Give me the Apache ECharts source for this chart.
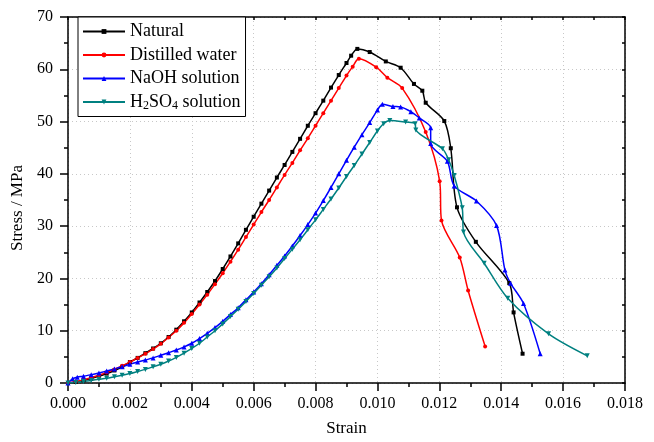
<!DOCTYPE html>
<html>
<head>
<meta charset="utf-8">
<script src="https://cdn.jsdelivr.net/npm/echarts@6/dist/echarts.min.js"></script>
<style>
  html, body { margin: 0; padding: 0; background: #fff; }
  #chart { width: 654px; height: 442px; }
</style>
</head>
<body>
<div id="chart"></div>
<script>
// strain / stress pairs
var natural = [
  [0, 0], [0.00025, 0.2], [0.0005, 0.5], [0.00075, 0.9], [0.001, 1.3], [0.00125, 1.8],
  [0.0015, 2.4], [0.00175, 3.1], [0.002, 4.0], [0.00225, 4.8], [0.0025, 5.7], [0.00275, 6.6],
  [0.003, 7.6], [0.00325, 8.8], [0.0035, 10.2], [0.00375, 11.8], [0.004, 13.5], [0.00425, 15.4],
  [0.0045, 17.4], [0.00475, 19.5], [0.005, 21.8], [0.00525, 24.2], [0.0055, 26.7], [0.00575, 29.3],
  [0.006, 31.8], [0.00625, 34.3], [0.0065, 36.8], [0.00675, 39.3], [0.007, 41.7], [0.00725, 44.2],
  [0.0075, 46.7], [0.00775, 49.2], [0.008, 51.6], [0.00825, 54.0], [0.0085, 56.5], [0.00875, 58.9],
  [0.009, 61.2], [0.00915, 62.6], [0.00935, 63.9],
  [0.00975, 63.3], [0.01027, 61.5], [0.01075, 60.3], [0.01118, 57.2], [0.01145, 55.9],
  [0.01156, 53.6], [0.01216, 50.1], [0.01237, 44.9], [0.01257, 33.6], [0.01318, 27.0],
  [0.01426, 19.1], [0.0144, 13.5], [0.01469, 5.6]
];
var distilled = [
  [0, 0], [0.00025, 0.3], [0.0005, 0.6], [0.00075, 1.0], [0.001, 1.5], [0.00125, 2.0],
  [0.0015, 2.6], [0.00175, 3.3], [0.002, 4.0], [0.00225, 4.8], [0.0025, 5.6], [0.00275, 6.5],
  [0.003, 7.5], [0.00325, 8.7], [0.0035, 10.0], [0.00375, 11.5], [0.004, 13.2], [0.00425, 15.0],
  [0.0045, 16.9], [0.00475, 18.9], [0.005, 21.0], [0.00525, 23.2], [0.0055, 25.5], [0.00575, 27.9],
  [0.006, 30.3], [0.00625, 32.7], [0.0065, 35.0], [0.00675, 37.4], [0.007, 39.8], [0.00725, 42.1],
  [0.0075, 44.5], [0.00775, 46.8], [0.008, 49.2], [0.00825, 51.6], [0.0085, 54.0], [0.00875, 56.4],
  [0.009, 58.8], [0.0092, 60.5], [0.0094, 62.0],
  [0.00996, 60.4], [0.01032, 58.4], [0.0108, 56.4], [0.01156, 48.0], [0.01201, 38.6],
  [0.01207, 31.1], [0.01266, 24.0], [0.01293, 17.7], [0.01348, 7.0]
];
var naoh = [
  [0, 0], [0.00015, 0.8], [0.0003, 1.1], [0.0005, 1.3], [0.00075, 1.6], [0.001, 1.9],
  [0.00125, 2.3], [0.0015, 2.7], [0.00175, 3.1], [0.002, 3.6], [0.00225, 4.0], [0.0025, 4.4],
  [0.00275, 4.8], [0.003, 5.3], [0.00325, 5.8], [0.0035, 6.3], [0.00375, 6.9], [0.004, 7.6],
  [0.00425, 8.5], [0.0045, 9.5], [0.00475, 10.6], [0.005, 11.8], [0.00525, 13.1], [0.0055, 14.4],
  [0.00575, 15.9], [0.006, 17.4], [0.00625, 19.0], [0.0065, 20.7], [0.00675, 22.5], [0.007, 24.3],
  [0.00725, 26.2], [0.0075, 28.2], [0.00775, 30.3], [0.008, 32.5], [0.00825, 34.9], [0.0085, 37.4],
  [0.00875, 40.0], [0.009, 42.6], [0.00925, 45.1], [0.0095, 47.5], [0.00975, 49.8], [0.01, 52.2],
  [0.01016, 53.3], [0.0105, 52.9], [0.01075, 52.8], [0.01108, 51.9], [0.01135, 50.7],
  [0.01172, 48.8], [0.01172, 45.8], [0.01226, 42.4], [0.01248, 37.7], [0.0132, 34.8],
  [0.01385, 30.1], [0.01412, 21.6], [0.0143, 19.1], [0.01472, 15.2], [0.01526, 5.6]
];
var h2so4 = [
  [0, 0], [0.00025, 0.1], [0.0005, 0.3], [0.00075, 0.5], [0.001, 0.7], [0.00125, 0.9],
  [0.0015, 1.2], [0.00175, 1.5], [0.002, 1.8], [0.00225, 2.2], [0.0025, 2.6], [0.00275, 3.1],
  [0.003, 3.6], [0.00325, 4.2], [0.0035, 4.9], [0.00375, 5.7], [0.004, 6.6], [0.00425, 7.6],
  [0.0045, 8.8], [0.00475, 10.0], [0.005, 11.3], [0.00525, 12.7], [0.0055, 14.1], [0.00575, 15.6],
  [0.006, 17.1], [0.00625, 18.7], [0.0065, 20.3], [0.00675, 22.0], [0.007, 23.8], [0.00725, 25.6],
  [0.0075, 27.4], [0.00775, 29.3], [0.008, 31.2], [0.00825, 33.2], [0.0085, 35.2], [0.00875, 37.3],
  [0.009, 39.5], [0.00925, 41.6], [0.0095, 43.8], [0.00975, 46.0], [0.01, 48.2], [0.0102, 49.6],
  [0.0104, 50.2], [0.01091, 49.9], [0.01122, 49.6], [0.01124, 48.4], [0.0121, 44.8],
  [0.0123, 42.7], [0.01248, 39.7], [0.01274, 33.5], [0.01278, 28.9], [0.01345, 22.9],
  [0.01421, 16.2], [0.01553, 9.4], [0.01678, 5.2]
];
var seriesNames = ['Natural', 'Distilled water', 'NaOH solution', 'H2SO4 solution'];
var seriesColors = ['#000000', '#ff0000', '#0000ff', '#008080'];

var serif = '"Liberation Serif", "Times New Roman", serif';
var chart = echarts.init(document.getElementById('chart'), null, { renderer: 'canvas' });

function mkSeries(name, data, color, symbol, size, rotate) {
  return {
    name: name,
    type: 'line',
    data: data,
    smooth: 0.3,
    symbol: symbol,
    symbolSize: size,
    symbolRotate: rotate || 0,
    showAllSymbol: true,
    lineStyle: { color: color, width: 1.5 },
    itemStyle: { color: color },
    emphasis: { disabled: true }
  };
}

var tickStyle = { color: '#000', width: 1.5 };

var option = {
  animation: false,
  backgroundColor: '#fff',
  grid: { left: 68, right: 29, top: 17, bottom: 54 },
  legend: {
    left: 78,
    top: 17,
    orient: 'vertical',
    data: seriesNames,
    backgroundColor: '#fff',
    borderColor: '#000',
    borderWidth: 1,
    borderRadius: 0,
    padding: [5, 5, 5, 4],
    itemWidth: 42,
    itemHeight: 6,
    itemGap: 4.5,
    textStyle: {
      fontFamily: serif,
      fontSize: 18,
      lineHeight: 19,
      color: '#000',
      rich: {
        sub: { fontFamily: serif, fontSize: 12, verticalAlign: 'bottom', padding: [9, 0, 0, 0] }
      }
    },
    formatter: function (name) {
      if (name === 'H2SO4 solution') return 'H{sub|2}SO{sub|4} solution';
      return name;
    }
  },
  xAxis: [{
    type: 'value',
    min: 0,
    max: 0.018,
    interval: 0.002,
    name: 'Strain',
    nameLocation: 'middle',
    nameGap: 37,
    nameTextStyle: { fontFamily: serif, fontSize: 17, color: '#000' },
    axisLine: { lineStyle: { color: '#000', width: 1.5 } },
    axisTick: { show: true, length: 8, lineStyle: tickStyle },
    minorTick: { show: true, splitNumber: 2, length: 4, lineStyle: tickStyle },
    axisLabel: { fontFamily: serif, fontSize: 16, color: '#000', margin: 13,
      formatter: function (v) { return v.toFixed(3); } },
    splitLine: { show: true, lineStyle: { color: '#c8c8c8', type: [1, 3], width: 1 } }
  }, {
    type: 'value',
    position: 'top',
    min: 0,
    max: 0.018,
    interval: 0.002,
    axisLine: { show: true, onZero: false, lineStyle: { color: '#000', width: 1.5 } },
    axisTick: { show: true, inside: true, length: 3, lineStyle: tickStyle },
    minorTick: { show: true, splitNumber: 2, length: 3, lineStyle: tickStyle },
    axisLabel: { show: false },
    splitLine: { show: false }
  }],
  yAxis: [{
    type: 'value',
    min: 0,
    max: 70,
    interval: 10,
    name: 'Stress / MPa',
    nameLocation: 'middle',
    nameGap: 37,
    nameTextStyle: { fontFamily: serif, fontSize: 17, color: '#000', padding: [0, 16, 0, 0] },
    axisLine: { show: true, lineStyle: { color: '#000', width: 1.5 } },
    axisTick: { show: true, length: 8, lineStyle: tickStyle },
    minorTick: { show: true, splitNumber: 2, length: 4, lineStyle: tickStyle },
    axisLabel: { fontFamily: serif, fontSize: 16, color: '#000', margin: 15 },
    splitLine: { show: true, lineStyle: { color: '#c8c8c8', type: [1, 3], width: 1 } }
  }, {
    type: 'value',
    position: 'right',
    min: 0,
    max: 70,
    interval: 10,
    axisLine: { show: true, onZero: false, lineStyle: { color: '#000', width: 1.5 } },
    axisTick: { show: true, inside: true, length: 3, lineStyle: tickStyle },
    minorTick: { show: true, splitNumber: 2, length: 3, lineStyle: tickStyle },
    axisLabel: { show: false },
    splitLine: { show: false }
  }],
  series: [
    mkSeries(seriesNames[0], natural, seriesColors[0], 'rect', 4),
    mkSeries(seriesNames[1], distilled, seriesColors[1], 'circle', 4),
    mkSeries(seriesNames[2], naoh, seriesColors[2], 'triangle', 5),
    mkSeries(seriesNames[3], h2so4, seriesColors[3], 'triangle', 5, 180)
  ]
};
chart.setOption(option);
</script>
</body>
</html>
